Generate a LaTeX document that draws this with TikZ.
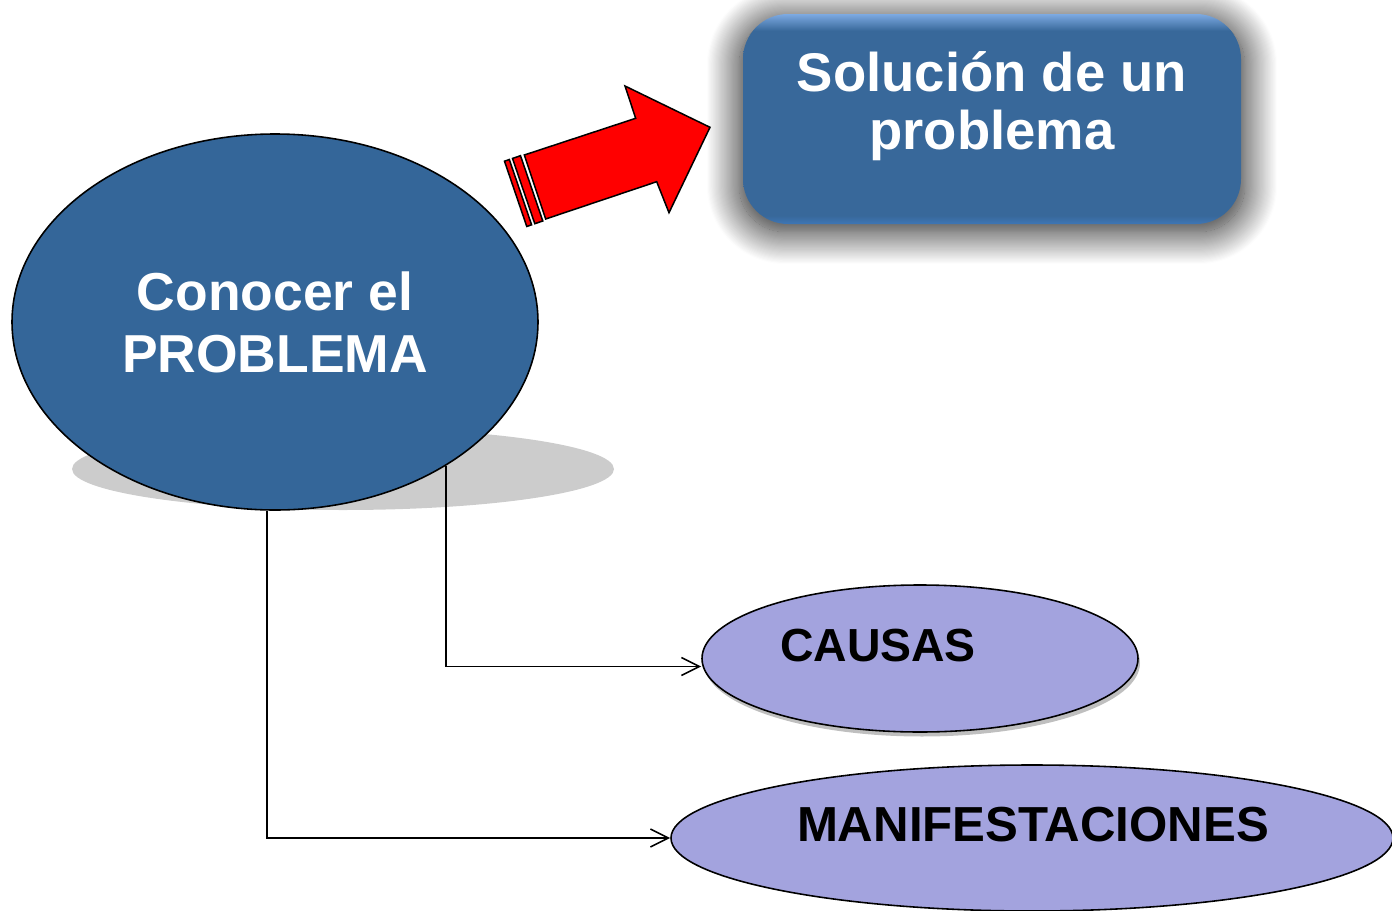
\documentclass[tikz,border=0pt]{standalone}
\usepackage{fontspec}
\setsansfont{Liberation Sans}
\usetikzlibrary{shapes.geometric,shadows,shadows.blur,arrows.meta}

\definecolor{probblue}{RGB}{52,102,153}
\definecolor{boxblue}{RGB}{56,104,154}
\definecolor{boxtop}{RGB}{125,170,226}
\definecolor{boxbot}{RGB}{62,118,182}
\definecolor{ovalfill}{RGB}{163,163,222}
\definecolor{floorgray}{RGB}{204,204,204}

\pgfdeclareverticalshading{solshade}{100bp}{%
  color(0bp)=(boxbot); color(25bp)=(boxbot); color(27bp)=(boxblue);
  color(71bp)=(boxblue); color(75bp)=(boxtop); color(100bp)=(boxtop)}

\begin{document}
\begin{tikzpicture}[%
      x=0.1mm, y=-0.1mm,
      >={Straight Barb[length=1.8mm,width=1.8mm]},
      bigoval/.style={ellipse, draw=black, line width=0.45pt, fill=probblue,
        inner sep=0pt, minimum width=52.6mm, minimum height=37.6mm,
        text=white, align=center,
        font=\sffamily\bfseries\fontsize{15.2}{17.6}\selectfont},
      solbox/.style={rectangle, rounded corners=4.5mm, shade, shading=solshade,
        minimum width=49.8mm, minimum height=21mm,
        blur shadow={shadow xshift=0mm, shadow yshift=-0.6mm,
          shadow blur radius=3.2mm, shadow blur steps=30,
          shadow scale=1.015, shadow opacity=90}},
      soltext/.style={text=white, align=center,
        font=\sffamily\bfseries\fontsize{15.5}{16.5}\selectfont},
      smalloval/.style={ellipse, draw=black, line width=0.45pt, fill=ovalfill,
        inner sep=0pt},
      ovaltext/.style={text=black, font=\sffamily\bfseries\fontsize{13.2}{15}\selectfont},
      link/.style={->, line width=0.45pt},
      bolt/.style={fill=red, draw=black, line width=0.43pt, line join=miter},
      ]
      \useasboundingbox (0,0) rectangle (1392,911);
      \clip (0,0) rectangle (1392,911);

      % floor shadow under the big oval
      \fill [floorgray] (343,469) ellipse [x radius=27.1mm, y radius=4.1mm];
      \node [bigoval] (conocer) at (275,322) {Conocer el\\PROBLEMA};

      \node [solbox, label={[soltext, yshift=1.3mm]center:Solución de un\\problema}]
        (solucion) at (992,119) {};

      % red block arrow
      \draw [bolt] (524.3,155) -- (635.7,118.3) -- (625,86) -- (710,127.3)
        -- (669,212.7) -- (656.7,181.7) -- (545.7,219) -- cycle;
      \draw [bolt] (512.5,158.4) -- (520.5,155.7) -- (542.8,221.0) -- (534.8,223.7) -- cycle;
      \draw [bolt] (504.5,161.2) -- (509.3,159.5) -- (531.6,224.8) -- (526.8,226.5) -- cycle;

      \node [smalloval, minimum width=43.6mm, minimum height=14.7mm,
        drop shadow={shadow xshift=0.2mm, shadow yshift=-0.45mm},
        label={[ovaltext, xshift=-4.2mm, yshift=1.3mm]center:CAUSAS}]
        (causas) at (920,658.5) {};
      \node [smalloval, minimum width=72.2mm, minimum height=14.6mm,
        label={[ovaltext, font=\sffamily\bfseries\fontsize{14}{15}\selectfont,
          xshift=0.1mm, yshift=1.3mm]center:MANIFESTACIONES}]
        (manif) at (1032,838) {};

      \draw [link] (conocer.-40) |- ([yshift=-0.8mm]causas.west);
      \draw [link] ([xshift=-0.8mm]conocer.south) |- (manif.west);
\end{tikzpicture}
\end{document}
